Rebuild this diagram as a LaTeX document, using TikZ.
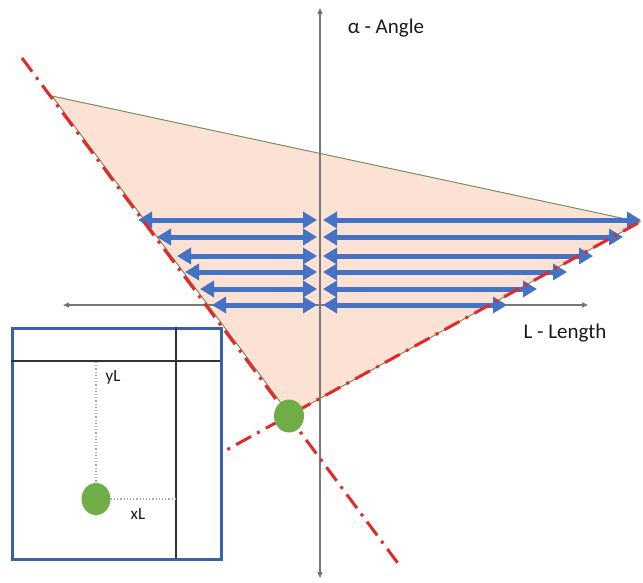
\documentclass[tikz,border=0pt]{standalone}
\usepackage{fontspec}
\setmainfont{Carlito}
\usetikzlibrary{arrows.meta}
\definecolor{peach}{RGB}{251,226,212}
\definecolor{edgegreen}{RGB}{125,140,95}
\definecolor{arrowblue}{RGB}{68,114,196}
\definecolor{redline}{RGB}{228,40,40}
\definecolor{dotgreen}{RGB}{112,173,71}
\definecolor{axisgray}{RGB}{120,120,120}
\definecolor{boxblue}{RGB}{60,95,170}
\tikzset{
  axisline/.style={draw=axisgray, line width=1.3pt, {Triangle[length=6pt,width=5pt,fill=black]}-{Triangle[length=6pt,width=5pt,fill=black]}},
  bluearrow/.style={draw=arrowblue, line width=5pt, {Triangle[length=14pt,width=16pt]}-{Triangle[length=14pt,width=16pt]}},
  redlinestyle/.style={draw=redline, line width=3pt, dash pattern=on 17pt off 7pt on 3pt off 7pt},
  dotstyle/.style={ellipse, fill=dotgreen, inner sep=0pt},
  labeltext/.style={font=\fontsize{21}{24}\selectfont, text=black!90, inner sep=0pt},
  smalltext/.style={font=\fontsize{17}{20}\selectfont, text=black!90, inner sep=0pt},
  dottedline/.style={draw=gray!70, line width=1.2pt, dotted},
  innerline/.style={draw=black!80, line width=1.2pt}
}
\usetikzlibrary{shapes.geometric}
\begin{document}
\begin{tikzpicture}[x=1pt,y=-1pt]
\useasboundingbox (0,0) rectangle (643,582);
% triangle
\coordinate (A) at (52,96);
\coordinate (B) at (640,222);
\coordinate (C) at (290,415);
\fill[peach] (A) -- (B) -- (C) -- cycle;
\draw[edgegreen, line width=1pt] (A) -- (B) -- (C) -- cycle;
% axes
\coordinate (vtop) at (320,8);
\coordinate (vbot) at (320,578);
\coordinate (hleft) at (63,305);
\coordinate (hright) at (588,305);
\draw[axisline] (vbot) -- (vtop);
\draw[axisline] (hleft) -- (hright);
% blue arrows
\foreach \i/\y/\xl/\xr in {1/220/138/641, 2/237/157/623, 3/256/177/593, 4/272/185/567, 5/289/200/537, 6/305/212/507} {
  \coordinate (la\i) at (\xl,\y);
  \coordinate (lb\i) at (317,\y);
  \coordinate (ra\i) at (323,\y);
  \coordinate (rb\i) at (\xr,\y);
  \draw[bluearrow] (la\i) -- (lb\i);
  \draw[bluearrow] (ra\i) -- (rb\i);
}
% red dash-dot lines
\coordinate (r1a) at (22,58);
\coordinate (r1b) at (400,566);
\coordinate (r2a) at (638,223);
\coordinate (r2b) at (221,453);
\draw[redlinestyle] (r1a) -- (r1b);
\draw[redlinestyle] (r2a) -- (r2b);
% green dot at apex
\node[dotstyle, minimum width=30pt, minimum height=33pt] (apexdot) at (289,416) {};
% labels
\node[labeltext] (anglelabel) at (386,28) {α - Angle};
\node[labeltext] (lengthlabel) at (565,333) {L - Length};
% inset
\node[draw=boxblue, line width=2.5pt, fill=white, minimum width=209pt, minimum height=231pt, inner sep=0pt, anchor=north west] (inset) at (11,327) {};
\coordinate (hl1) at (11,361);
\coordinate (hl2) at (220,361);
\coordinate (vl1) at (176,327);
\coordinate (vl2) at (176,558);
\draw[innerline] (hl1) -- (hl2);
\draw[innerline] (vl1) -- (vl2);
\node[dotstyle, minimum width=29pt, minimum height=32pt] (insetdot) at (96,499) {};
\coordinate (ytop) at (96,362);
\coordinate (xend) at (176,499);
\draw[dottedline] (ytop) -- (insetdot.north);
\draw[dottedline] (insetdot.east) -- (xend);
\node[smalltext] (ylabel) at (113,377) {yL};
\node[smalltext] (xlabel) at (138,514) {xL};
\end{tikzpicture}
\end{document}
